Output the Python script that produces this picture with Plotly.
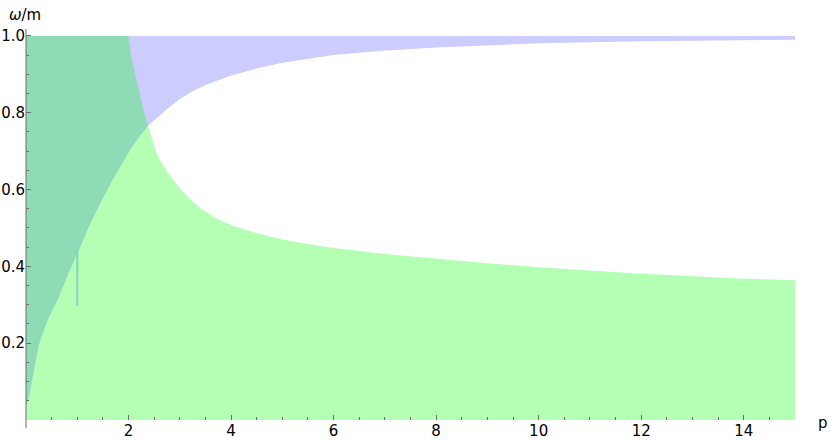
import plotly.graph_objects as go

# green region: omega/m below this curve
p_green = [0, 2.0, 2.01, 2.03, 2.07, 2.13, 2.22, 2.3, 2.38, 2.45, 2.52, 2.6, 2.7, 2.8, 2.9, 3.0, 3.2, 3.4, 3.7, 4,
           4.5, 5, 5.5, 6, 7, 8, 9, 10, 11, 12, 13, 14, 15]
w_green = [1.0, 1.0, 0.985, 0.965, 0.935, 0.9, 0.848, 0.803, 0.766, 0.733, 0.705, 0.68, 0.657, 0.638, 0.62, 0.604,
           0.575, 0.551, 0.526, 0.507, 0.486, 0.47, 0.458, 0.448, 0.432, 0.42, 0.408, 0.398, 0.389, 0.381, 0.374,
           0.368, 0.364]

# blue region: omega/m above this curve (up to 1)
p_blue = [0, 0.02, 0.045, 0.08, 0.11, 0.16, 0.21, 0.26, 0.35, 0.435, 0.53, 0.63, 0.72, 0.82, 0.92, 1.03, 1.25,
          1.48, 1.75, 2.03, 2.2, 2.38, 2.6, 2.8, 3.0, 3.25, 3.5, 4, 4.5, 5, 6, 7, 8, 9, 10, 12, 15]
w_blue = [0.04, 0.045, 0.055, 0.075, 0.095, 0.135, 0.17, 0.2, 0.235, 0.264, 0.29, 0.317, 0.347, 0.38, 0.41, 0.442,
          0.51, 0.573, 0.64, 0.703, 0.736, 0.766, 0.792, 0.815, 0.836, 0.856, 0.872, 0.897, 0.915, 0.93, 0.95,
          0.962, 0.97, 0.976, 0.981, 0.986, 0.99]
w_max = 1.0

# where the two boundaries cross
p_cross = 2.38

# small artefact line in the original plot
glitch_p = [1.0, 1.0]
glitch_w = [0.297, 0.447]

x_ticks = [2, 4, 6, 8, 10, 12, 14]
y_ticks = [0.2, 0.4, 0.6, 0.8, 1.0]

GREEN = "rgb(179,255,179)"
BLUE = "rgb(204,204,255)"
TEAL = "rgb(143,219,181)"
AXIS = "rgb(110,110,110)"

fig = go.Figure()

# green region
fig.add_trace(go.Scatter(x=p_green, y=w_green, mode="lines", line=dict(width=0),
                         fill="tozeroy", fillcolor=GREEN, hoverinfo="skip"))

# blue region (between the top and the lower curve)
fig.add_trace(go.Scatter(x=p_blue, y=[w_max] * len(p_blue), mode="lines", line=dict(width=0),
                         hoverinfo="skip"))
fig.add_trace(go.Scatter(x=p_blue, y=w_blue, mode="lines", line=dict(width=0),
                         fill="tonexty", fillcolor=BLUE, hoverinfo="skip"))

# overlap region
ov_x = [p for p in p_green if p <= p_cross] + [p for p in p_blue if p <= p_cross][::-1]
ov_y = [w for p, w in zip(p_green, w_green) if p <= p_cross] + \
       [w for p, w in zip(p_blue, w_blue) if p <= p_cross][::-1]
fig.add_trace(go.Scatter(x=ov_x, y=ov_y, mode="lines", line=dict(width=0),
                         fill="toself", fillcolor=TEAL, hoverinfo="skip"))

fig.add_trace(go.Scatter(x=glitch_p, y=glitch_w, mode="lines",
                         line=dict(color="rgb(140,208,196)", width=2), hoverinfo="skip"))

fig.update_layout(
    width=830, height=441,
    margin=dict(l=26, r=35, t=29, b=21),
    paper_bgcolor="white", plot_bgcolor="white",
    showlegend=False,
    font=dict(family="DejaVu Sans", size=15, color="black"),
    xaxis=dict(range=[0, 15], showgrid=False, zeroline=False, showline=False, automargin=False,
               tickmode="array", tickvals=x_ticks, ticktext=[str(t) for t in x_ticks],
               ticks="inside", ticklen=5, tickcolor=AXIS, tickwidth=1,
               minor=dict(tickmode="linear", tick0=0, dtick=0.5, ticks="inside", ticklen=3,
                          tickcolor=AXIS, showgrid=False)),
    yaxis=dict(range=[0, 1.018], showgrid=False, zeroline=False, showline=False, automargin=False,
               tickmode="array", tickvals=y_ticks, ticktext=["%.1f" % t for t in y_ticks],
               ticks="inside", ticklen=5, tickcolor=AXIS, tickwidth=1,
               minor=dict(tickmode="linear", tick0=0, dtick=0.05, ticks="inside", ticklen=3,
                          tickcolor=AXIS, showgrid=False)),
)

# vertical axis line, a bit longer than the data range like the original
fig.add_shape(type="line", xref="paper", yref="paper", x0=0, x1=0, y0=-0.021, y1=1.0,
              line=dict(color=AXIS, width=1))

fig.add_annotation(text="<i>ω</i>/m", xref="paper", yref="paper", x=-0.001, y=1.036,
                   xanchor="center", yanchor="middle", showarrow=False, font=dict(size=15))
fig.add_annotation(text="p", xref="paper", yref="paper", x=1.036, y=-0.008,
                   xanchor="center", yanchor="middle", showarrow=False, font=dict(size=15))

# the page has a default body margin which would shift the figure
fig.write_html("out.html", config={"displayModeBar": False},
               post_script="document.body.style.margin='0';")
